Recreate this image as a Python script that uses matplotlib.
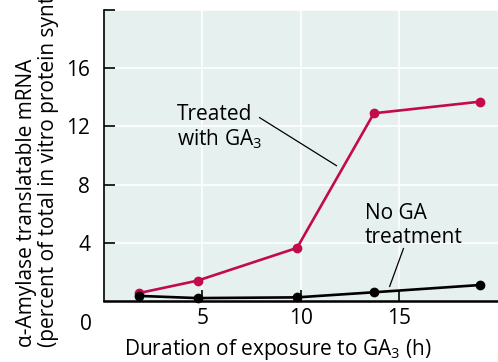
import numpy as np
import matplotlib
matplotlib.use("Agg")
import matplotlib.pyplot as plt

plt.rcParams['font.family'] = ['Open Sans', 'DejaVu Sans']
plt.rcParams['mathtext.fontset'] = 'custom'
plt.rcParams['mathtext.rm'] = 'Open Sans'
plt.rcParams['mathtext.it'] = 'Open Sans:italic'

# data
hours = [1.8, 4.75, 9.8, 13.7, 19.1]
treated = [0.55, 1.4, 3.65, 12.9, 13.7]
untreated = [0.35, 0.2, 0.25, 0.6, 1.1]
xticks = [5, 10, 15]
yticks = [4, 8, 12, 16, 20]
ytick_labels = ['4', '8', '12', '16', '']

red = '#c20a4c'
bg = '#e6f0ee'
fs = 15

fig = plt.figure(figsize=(4.98, 3.62), dpi=100)
ax = fig.add_axes([0.2088, 0.1685, 0.7912, 0.804])
ax.set_facecolor(bg)

ax.plot(hours, treated, color=red, lw=1.9, marker='o', ms=6, zorder=3, clip_on=False)
ax.plot(hours, untreated, color='black', lw=1.9, marker='o', ms=6, zorder=3, clip_on=False)

ax.set_xlim(0, 20)
ax.set_ylim(0, 20)
ax.set_xticks(xticks)
ax.set_yticks(yticks)
ax.set_yticklabels(ytick_labels)
ax.grid(True, color='white', lw=1.2)
ax.set_axisbelow(True)
ax.tick_params(direction='in', length=8, width=1.2, labelsize=fs, pad=5)
ax.tick_params(axis='y', pad=10)

for s in ['top', 'right']:
    ax.spines[s].set_visible(False)
ax.spines['left'].set_linewidth(1.2)
ax.spines['bottom'].set_linewidth(1.8)

# origin label
ax.text(-0.6, -0.9, '0', fontsize=fs, ha='right', va='top')

ax.set_xlabel('Duration of exposure to GA$_3$ (h)', fontsize=fs)
ax.xaxis.set_label_coords(0.44, -0.125)

# the long axis title runs off the top, as in the reference
fig.text(0.033, 0.041, 'α-Amylase translatable mRNA\n(percent of total in vitro protein synthesis)',
         rotation=90, fontsize=fs, ha='left', va='bottom', multialignment='left',
         linespacing=1.05)

# annotations
ax.text(3.7, 11.9, 'Treated\nwith GA$_3$', fontsize=fs, ha='left', va='center', linespacing=1.15)
ax.plot([7.9, 11.8], [12.6, 9.3], color='black', lw=0.9)
ax.text(13.25, 5.2, 'No GA\ntreatment', fontsize=fs, ha='left', va='center', linespacing=1.15)
ax.plot([15.2, 14.5], [3.6, 1.0], color='black', lw=0.9)

fig.savefig('out.png', dpi=100)
